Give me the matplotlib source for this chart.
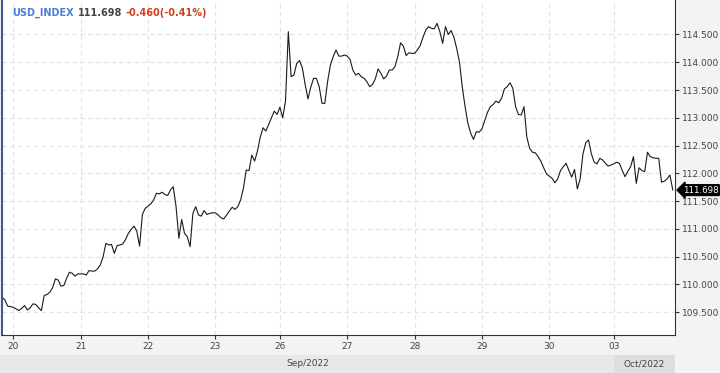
import numpy as np
import matplotlib
matplotlib.use('Agg')
import matplotlib.pyplot as plt
import matplotlib.transforms as mtransforms

# hourly closes, USD_INDEX, 20 Sep - 03 Oct 2022
harga = [
    109.77, 109.72, 109.61, 109.60, 109.59, 109.56, 109.53, 109.57, 109.62, 109.54,
    109.58, 109.65, 109.64, 109.58, 109.53, 109.80, 109.82, 109.86, 109.94, 110.10,
    110.08, 109.97, 109.98, 110.11, 110.22, 110.20, 110.15, 110.19, 110.19, 110.19,
    110.17, 110.25, 110.24, 110.24, 110.28, 110.35, 110.50, 110.74, 110.71, 110.72,
    110.56, 110.70, 110.71, 110.73, 110.81, 110.92, 110.99, 111.05, 110.96, 110.69,
    111.26, 111.37, 111.41, 111.45, 111.52, 111.64, 111.63, 111.66, 111.62, 111.60,
    111.70, 111.76, 111.40, 110.83, 111.17, 110.92, 110.86, 110.68, 111.28, 111.40,
    111.25, 111.23, 111.33, 111.26, 111.28, 111.29, 111.29, 111.25, 111.20, 111.18,
    111.25, 111.32, 111.39, 111.35, 111.40, 111.52, 111.73, 112.06, 112.05, 112.33,
    112.22, 112.40, 112.65, 112.82, 112.76, 112.88, 113.00, 113.12, 113.06, 113.19,
    113.00, 113.30, 114.55, 113.74, 113.77, 113.98, 114.03, 113.90, 113.60, 113.34,
    113.55, 113.71, 113.71, 113.56, 113.26, 113.26, 113.65, 113.95, 114.10, 114.22,
    114.11, 114.11, 114.13, 114.11, 114.05, 113.86, 113.77, 113.80, 113.74, 113.71,
    113.65, 113.56, 113.60, 113.70, 113.88, 113.80, 113.70, 113.75, 113.86, 113.86,
    113.92, 114.10, 114.35, 114.29, 114.12, 114.17, 114.16, 114.16, 114.22, 114.30,
    114.45, 114.58, 114.64, 114.61, 114.60, 114.70, 114.55, 114.34, 114.64, 114.50,
    114.57, 114.45, 114.25, 114.00, 113.55, 113.20, 112.90, 112.72, 112.61, 112.75,
    112.74, 112.80, 112.95, 113.10, 113.20, 113.24, 113.30, 113.27, 113.35, 113.52,
    113.56, 113.63, 113.53, 113.20, 113.06, 113.05, 113.20, 112.65, 112.45, 112.38,
    112.37, 112.30, 112.22, 112.10, 111.99, 111.95, 111.91, 111.83, 111.90, 112.05,
    112.12, 112.18, 112.05, 111.93, 112.07, 111.72, 111.90, 112.35, 112.55, 112.60,
    112.35, 112.20, 112.17, 112.27, 112.24, 112.18, 112.13, 112.15, 112.17, 112.20,
    112.18, 112.05, 111.94, 112.04, 112.12, 112.30, 111.82, 112.10, 112.05, 112.03,
    112.38, 112.30, 112.28, 112.27, 112.27, 111.84, 111.86, 111.90, 111.97, 111.70,
]

hari_idx = [4, 28, 52, 76, 99, 123, 147, 171, 195, 218]
hari_label = ['20', '21', '22', '23', '26', '27', '28', '29', '30', '03']
bulan_label = ['Sep/2022', 'Oct/2022']
bulan_mulai = [0, 218]

harga_akhir = 111.698
perubahan = '-0.460(-0.41%)'
simbol = 'USD_INDEX'

yticks = np.arange(109.5, 114.51, 0.5)

W, H = 720, 373
fig = plt.figure(figsize=(W / 100, H / 100), dpi=100)
fig.patch.set_facecolor('#f3f3f3')

ax = fig.add_axes([2 / W, 1 - 335 / H, (675 - 2) / W, 335 / H])
ax.set_facecolor('white')

x = np.arange(len(harga))
ax.plot(x, harga, color='#1a1a1a', lw=0.8)

ax.set_xlim(-0.03, 239.8)
ax.set_ylim(109.09, 115.12)

ax.set_xticks(hari_idx)
ax.set_xticklabels(hari_label)
ax.set_yticks(yticks)
ax.set_yticklabels(['{:.3f}'.format(v) for v in yticks])
ax.yaxis.tick_right()

ax.tick_params(axis='both', labelsize=6.5, colors='#333333', length=3, width=0.8,
               labelcolor='#444444', pad=2)
ax.grid(True, color='#e2e2e2', linestyle=(0, (4, 3)), lw=0.8)

ax.spines['top'].set_visible(False)
ax.spines['right'].set_color('#333333')
ax.spines['bottom'].set_color('#333333')
ax.spines['left'].set_color('#3c5a8c')
ax.spines['left'].set_linewidth(1.5)

# month band under the axis
trans = mtransforms.blended_transform_factory(ax.transData, fig.transFigure)
band_h = 18 / H
fig.patches.append(plt.Rectangle((0, 0), 675 / W, band_h, transform=fig.transFigure,
                                 facecolor='#e8e8e8', edgecolor='none', zorder=0))
fig.patches.append(plt.Rectangle((bulan_mulai[1], 0), 239.8 - bulan_mulai[1], band_h,
                                 transform=trans, facecolor='#dedede', edgecolor='none', zorder=0))
fig.text((bulan_mulai[0] + bulan_mulai[1]) / 2, band_h / 2, bulan_label[0], transform=trans,
         ha='center', va='center', fontsize=6.5, color='#444444')
fig.text((bulan_mulai[1] + 239.8) / 2, band_h / 2, bulan_label[1], transform=trans,
         ha='center', va='center', fontsize=6.5, color='#444444')

# last price tag
ax.annotate('{:.3f}'.format(harga_akhir), xy=(1.0, harga_akhir), xycoords=('axes fraction', 'data'),
            xytext=(5.5, 0), textcoords='offset points', ha='left', va='center',
            fontsize=6.3, color='white', annotation_clip=False,
            bbox=dict(boxstyle='larrow,pad=0.1', fc='black', ec='black'))

# title
t1 = fig.text(12 / W, 1 - 13 / H, simbol, fontsize=7, color='#4a7fd6', va='center', weight='bold')
fig.canvas.draw()
r = fig.canvas.get_renderer()
bb = t1.get_window_extent(r)
t2 = fig.text((bb.x1 + 4) / W, 1 - 13 / H, '{:.3f}'.format(harga_akhir), fontsize=7,
              color='#444444', va='center', weight='bold')
bb2 = t2.get_window_extent(r)
fig.text((bb2.x1 + 4) / W, 1 - 13 / H, perubahan, fontsize=7, color='#d2401c',
         va='center', weight='bold')

plt.savefig('out.png', dpi=100, facecolor=fig.get_facecolor())
